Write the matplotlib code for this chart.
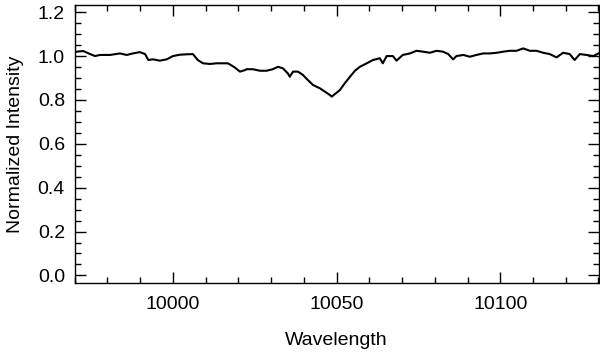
import matplotlib
matplotlib.use("Agg")
import matplotlib.pyplot as plt
from matplotlib.ticker import MultipleLocator, FormatStrFormatter

wavelength = [
    9970.0, 9972.6, 9974.7, 9976.2, 9977.7, 9980.8, 9983.8, 9985.9, 9987.8, 9989.9,
    9991.5, 9992.5, 9993.9, 9996.0, 9998.1, 10000.0, 10002.1, 10004.2, 10006.1, 10007.6,
    10009.2, 10011.3, 10013.4, 10015.3, 10016.8, 10018.8, 10020.5, 10022.0, 10022.5, 10024.4,
    10026.6, 10028.6, 10030.5, 10032.1, 10033.6, 10035.1, 10035.7, 10036.7, 10038.2, 10039.7,
    10041.2, 10042.8, 10044.9, 10046.4, 10047.9, 10048.5, 10049.5, 10051.0, 10052.5, 10054.1,
    10055.6, 10057.1, 10059.2, 10061.1, 10063.2, 10064.1, 10065.3, 10067.2, 10068.3, 10070.2,
    10072.4, 10074.4, 10076.4, 10078.5, 10080.5, 10082.5, 10084.1, 10085.6, 10086.6, 10088.7,
    10090.7, 10092.7, 10094.8, 10096.8, 10098.9, 10100.9, 10102.9, 10105.0, 10107.0, 10109.0,
    10111.1, 10113.1, 10115.1, 10117.2, 10119.2, 10121.2, 10122.7, 10124.3, 10126.3, 10128.4,
    10130.0,
]
intensity = [
    1.019, 1.023, 1.009, 1.000, 1.005, 1.005, 1.012, 1.005, 1.012, 1.018,
    1.009, 0.982, 0.985, 0.979, 0.985, 1.000, 1.006, 1.008, 1.009, 0.982,
    0.967, 0.964, 0.967, 0.967, 0.967, 0.949, 0.929, 0.936, 0.940, 0.940,
    0.933, 0.933, 0.940, 0.951, 0.944, 0.921, 0.906, 0.929, 0.929, 0.914,
    0.891, 0.868, 0.853, 0.838, 0.823, 0.815, 0.827, 0.845, 0.876, 0.906,
    0.933, 0.951, 0.967, 0.982, 0.990, 0.967, 1.000, 1.000, 0.979, 1.005,
    1.012, 1.024, 1.020, 1.015, 1.024, 1.020, 1.009, 0.985, 1.000, 1.005,
    0.997, 1.005, 1.012, 1.012, 1.015, 1.020, 1.024, 1.024, 1.035, 1.024,
    1.024, 1.015, 1.009, 0.994, 1.015, 1.009, 0.982, 1.009, 1.005, 1.000,
    1.012,
]

plt.rcParams['font.family'] = ['Liberation Sans', 'DejaVu Sans']

fig = plt.figure(figsize=(6.0, 3.53), dpi=100)
ax = fig.add_axes([0.1245, 0.198, 0.873, 0.788])
ax.plot(wavelength, intensity, color='black', lw=1.5)

ax.set_xlim(9970, 10130)
ax.set_ylim(-0.035, 1.233)
ax.xaxis.set_major_locator(MultipleLocator(50))
ax.xaxis.set_minor_locator(MultipleLocator(10))
ax.yaxis.set_major_locator(MultipleLocator(0.2))
ax.yaxis.set_minor_locator(MultipleLocator(0.05))
ax.yaxis.set_major_formatter(FormatStrFormatter('%.1f'))
ax.xaxis.set_major_formatter(FormatStrFormatter('%d'))
ax.tick_params(which='both', direction='in', top=True, right=True, labelsize=14, width=1)
ax.tick_params(which='major', length=8, pad=7)
ax.tick_params(axis='x', which='major', pad=9)
ax.tick_params(which='minor', length=4)
for s in ax.spines.values():
    s.set_linewidth(1)
ax.set_xlabel('Wavelength', fontsize=14, labelpad=14)
ax.set_ylabel('Normalized Intensity', fontsize=14, labelpad=10)

fig.savefig('out.png', dpi=100)
